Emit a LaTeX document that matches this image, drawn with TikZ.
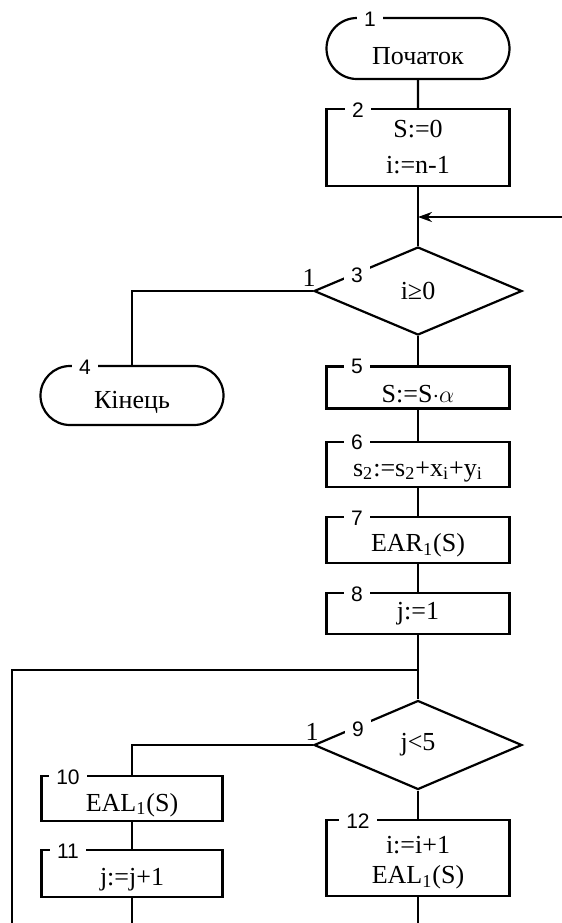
\documentclass[tikz,border=0pt]{standalone}
\usepackage{fontspec}
\setmainfont{Liberation Serif}
\newfontfamily\numfont{Liberation Sans}
\usepackage{tikz}
\usetikzlibrary{shapes.geometric, shapes.misc, arrows.meta}
\newcommand{\low}[2][3.5pt]{\raisebox{-#1}[\height][\depth]{#2}}
\tikzset{
    terminal/.style={draw, rounded rectangle, minimum width=91.5pt, inner sep=0pt, align=center, line width=1.1pt, font=\fontsize{13}{15}\selectfont},
    process/.style={draw, rectangle, minimum width=91.5pt, inner sep=0pt, align=center, line width=1.1pt, font=\fontsize{13}{15}\selectfont},
    decision/.style={draw, diamond, minimum width=104pt, minimum height=44pt, aspect=2.36, inner sep=0pt, align=center, line width=1.1pt, font=\fontsize{13}{15}\selectfont},
    num/.style={fill=white, inner xsep=3.5pt, inner ysep=1pt, font=\numfont\fontsize{10.5}{10.5}\selectfont},
    exitlabel/.style={inner sep=0pt, font=\fontsize{13}{13}\selectfont},
    line/.style={line width=1.1pt, draw=black},
    arrow/.style={line, -{Stealth[length=7pt, width=5pt]}}
}

\begin{document}
\begin{tikzpicture}[x=0.5pt, y=-0.5pt]
        \useasboundingbox (0,0) rectangle (562,923);

        % -----------------------------------------------------------------
        % БЛОКИ
        % -----------------------------------------------------------------
        \node[terminal, minimum height=30.5pt] (b1) at (418,48.5) {\low[4pt]{Початок}};
        \node[process, minimum height=38.5pt] (b2) at (418,147.5) {S:=0\\[3pt]i:=n-1};
        \node[decision] (b3) at (418,291) {i≥0};
        \node[terminal, minimum height=29.5pt] (b4) at (132,395.5) {\low[3.2pt]{Кінець}};
        \node[process, minimum height=21pt] (b5) at (418,387.5) {\low{S:=S$\cdot\alpha$}};
        \node[process, minimum height=22.5pt] (b6) at (418,464.5) {\low{s\textsubscript{2}:=s\textsubscript{2}+x\textsubscript{i}+y\textsubscript{i}}};
        \node[process, minimum height=23pt] (b7) at (418,540) {\low[2.5pt]{EAR\textsubscript{1}(S)}};
        \node[process, minimum height=20.5pt] (b8) at (418,613.5) {j:=1};
        \node[decision, minimum height=44.5pt] (b9) at (418,745) {j<5};
        \node[process, minimum width=90.5pt, minimum height=22.5pt] (b10) at (132,798.5) {\low[3.2pt]{EAL\textsubscript{1}(S)}};
        \node[process, minimum width=90.5pt, minimum height=23.5pt] (b11) at (132,873.5) {\low[3.2pt]{j:=j+1}};
        \node[process, minimum height=38pt] (b12) at (418,858) {\low[2.5pt]{i:=i+1}\\\low[2.5pt]{EAL\textsubscript{1}(S)}};

        % -----------------------------------------------------------------
        % ЗВ'ЯЗКИ
        % -----------------------------------------------------------------
        \coordinate (in3) at (562,217);
        \coordinate (m3) at (418,217);
        \coordinate (j9) at (418,670);
        \coordinate (lp) at (12,670);
        \coordinate (lb) at (12,923);
        \coordinate (e11) at (132,923);
        \coordinate (e12) at (418,923);

        \draw[line] (b1) -- (b2);
        \draw[line] (b2) -- (b3);
        \draw[arrow] (in3) -- (m3);
        \draw[line] (b3.west) -| (b4.north);
        \draw[line] (b3) -- (b5);
        \draw[line] (b5) -- (b6);
        \draw[line] (b6) -- (b7);
        \draw[line] (b7) -- (b8);
        \draw[line] (b8) -- (b9);
        \draw[line] (lb) -- (lp) -- (j9);
        \draw[line] (b9.west) -| (b10.north);
        \draw[line] (b10) -- (b11);
        \draw[line] (b11) -- (e11);
        \draw[line] (b9) -- (b12);
        \draw[line] (b12) -- (e12);

        % -----------------------------------------------------------------
        % НОМЕРИ БЛОКІВ
        % -----------------------------------------------------------------
        \node[num] (n1) at (370,19) {1};
        \node[num] (n2) at (358,110) {2};
        \node[num] (n3) at (357,275) {3};
        \node[num] (n4) at (85,367) {4};
        \node[num] (n5) at (357,366) {5};
        \node[num] (n6) at (357,442) {6};
        \node[num] (n7) at (357,518) {7};
        \node[num] (n8) at (357,594) {8};
        \node[num] (n9) at (358,729) {9};
        \node[num] (n10) at (68,777) {10};
        \node[num] (n11) at (68,851) {11};
        \node[num] (n12) at (358,821) {12};

        \node[exitlabel] (x3) at (309,278) {1};
        \node[exitlabel] (x9) at (312,732) {1};

    \end{tikzpicture}
\end{document}
